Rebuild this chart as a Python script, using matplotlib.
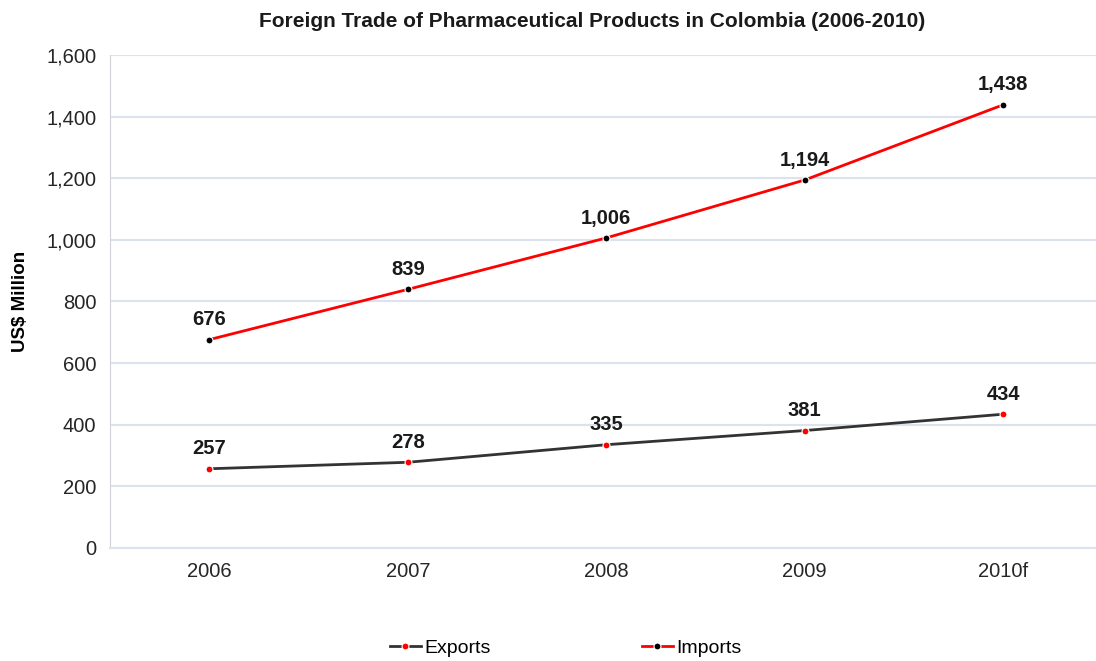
import matplotlib.pyplot as plt
from matplotlib.ticker import FuncFormatter

plt.rcParams['font.family'] = ['Liberation Sans', 'DejaVu Sans']

years = ['2006', '2007', '2008', '2009', '2010f']
exports = [257, 278, 335, 381, 434]
imports = [676, 839, 1006, 1194, 1438]

fig = plt.figure(figsize=(10.96, 6.61), dpi=100)
ax = fig.add_axes([0.1004, 0.171, 0.9055, 0.746])

x = range(len(years))
ax.plot(x, exports, color='#333333', lw=2, marker='o', ms=5,
        mfc='red', mec='white', mew=0.8, label='Exports', zorder=3)
ax.plot(x, imports, color='red', lw=2, marker='o', ms=5,
        mfc='black', mec='white', mew=0.8, label='Imports', zorder=3)

for xi, v in zip(x, exports):
    ax.annotate(f'{v:,}', (xi, v), xytext=(0, 7.5), textcoords='offset points',
                ha='center', va='bottom', fontsize=14.5, fontweight='bold', color='#1a1a1a')
for xi, v in zip(x, imports):
    ax.annotate(f'{v:,}', (xi, v), xytext=(0, 7.5), textcoords='offset points',
                ha='center', va='bottom', fontsize=14.5, fontweight='bold', color='#1a1a1a')

ax.set_xlim(-0.5, 4.5)
ax.set_ylim(0, 1600)
ax.set_yticks(range(0, 1601, 200))
ax.yaxis.set_major_formatter(FuncFormatter(lambda v, p: f'{int(v):,}'))
ax.set_xticks(list(x))
ax.set_xticklabels(years)
ax.tick_params(axis='both', length=0, labelsize=14.5, colors='#262626', pad=10)
ax.grid(axis='y', color='#dce3ee', lw=1.5)
ax.set_axisbelow(True)
for s in ['top', 'right']:
    ax.spines[s].set_visible(False)
ax.spines['left'].set_color('#d0d4da')
ax.spines['bottom'].set_color('#dce3ee')
ax.spines['bottom'].set_linewidth(1.5)

ax.set_ylabel('US$ Million', fontsize=13.5, fontweight='bold', labelpad=12)
fig.text(0.54, 0.967, 'Foreign Trade of Pharmaceutical Products in Colombia (2006-2010)',
         ha='center', va='center', fontsize=15, fontweight='bold', color='#1a1a1a')

fig.legend(loc='center', bbox_to_anchor=(0.516, 0.02), ncol=2, frameon=False,
           fontsize=14, columnspacing=7.8, handlelength=1.6, handletextpad=0.15)

fig.savefig('out.png', dpi=100)
